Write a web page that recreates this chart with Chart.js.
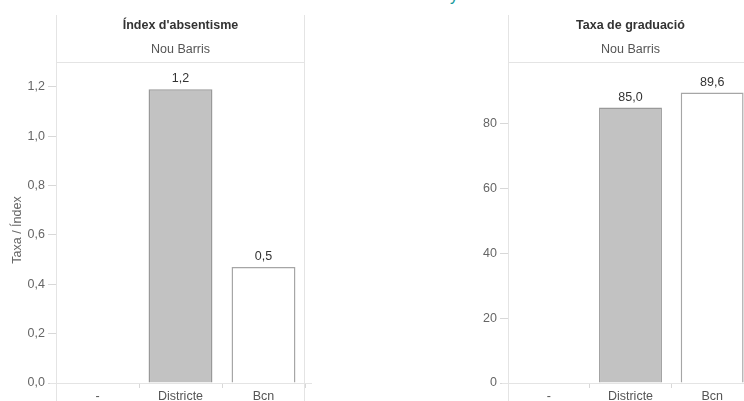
<!DOCTYPE html>
<html>
<head>
<meta charset="utf-8">
<script src="https://cdn.jsdelivr.net/npm/chart.js@4"></script>
<style>
  html, body { margin: 0; padding: 0; background: #fff; overflow: hidden; }
  body { width: 744px; height: 401px; position: relative; font-family: "Liberation Sans", Arial, sans-serif; }
  #absChart { position: absolute; left: 0; top: 0; }
  #gradChart { position: absolute; left: 440px; top: 0; }
  .cut-title { position: absolute; left: 450px; top: -13px; color: #1a9a9c; font-size: 16px; }
</style>
</head>
<body>
<div class="cut-title">y</div>
<canvas id="absChart" width="312" height="401"></canvas>
<canvas id="gradChart" width="320" height="401"></canvas>
<script>
// categories and values
const categories = ['-', 'Districte', 'Bcn'];
const absValues = [null, 1.19, 0.47];
const gradValues = [null, 85.0, 89.6];
const absTicks = { max: 1.3, step: 0.2 };
const gradTicks = { max: 99, step: 20 };

const fillColors = ['#c2c2c2', '#c2c2c2', '#ffffff'];
const edgeColors = ['#999999', '#999999', '#a6a6a6'];
const lineColor = '#e4e4e4';
const fontFamily = '"Liberation Sans", Arial, sans-serif';
const fontSize = 12.5;

const fmt = (v, d) => v.toFixed(d).replace('.', ',');

// header box, panel borders, axis title and value labels
const panelPlugin = {
    id: 'panel',
    afterDraw(chart, args, opts) {
        const { ctx, chartArea: a } = chart;
        ctx.save();
        ctx.strokeStyle = lineColor;
        ctx.lineWidth = 1;
        ctx.beginPath();
        ctx.moveTo(a.left + 0.5, 15); ctx.lineTo(a.left + 0.5, 401);
        ctx.moveTo(a.right - 0.5, 15); ctx.lineTo(a.right - 0.5, 401);
        ctx.moveTo(a.left, 62.5); ctx.lineTo(a.right, 62.5);
        ctx.moveTo(a.left - 6, a.bottom + 0.5); ctx.lineTo(a.right + 7, a.bottom + 0.5);
        ctx.stroke();

        const cx = (a.left + a.right) / 2;
        ctx.textAlign = 'center';
        ctx.textBaseline = 'middle';
        ctx.fillStyle = '#333';
        ctx.font = 'bold ' + fontSize + 'px ' + fontFamily;
        ctx.fillText(opts.title, cx, 26);
        ctx.fillStyle = '#555';
        ctx.font = fontSize + 'px ' + fontFamily;
        ctx.fillText(opts.subtitle, cx, 50);

        if (opts.yTitle) {
            ctx.save();
            ctx.translate(18, 230);
            ctx.rotate(-Math.PI / 2);
            ctx.fillStyle = '#666';
            ctx.fillText(opts.yTitle, 0, 0);
            ctx.restore();
        }

        ctx.fillStyle = '#333';
        ctx.textBaseline = 'bottom';
        const meta = chart.getDatasetMeta(0);
        chart.data.datasets[0].data.forEach((v, i) => {
            if (v == null) return;
            const bar = meta.data[i];
            ctx.fillText(fmt(v, 1), bar.x, bar.y - 4);
        });
        ctx.restore();
    }
};

function makeChart(id, values, ticks, header, axisWidth) {
    return new Chart(document.getElementById(id), {
        type: 'bar',
        data: {
            labels: categories,
            datasets: [{
                data: values,
                backgroundColor: fillColors,
                borderColor: edgeColors,
                borderWidth: 1.5,
                barPercentage: 0.77,
                categoryPercentage: 1
            }]
        },
        options: {
            responsive: false,
            animation: false,
            layout: { padding: { top: 62, right: 7, left: 0, bottom: 0 } },
            plugins: {
                legend: { display: false },
                tooltip: { enabled: false },
                panel: header
            },
            scales: {
                x: {
                    afterFit: (s) => { s.height = 18; },
                    border: { display: false },
                    grid: { offset: true, drawOnChartArea: false, tickLength: 5, color: '#d8d8d8' },
                    ticks: { color: '#555', padding: 1, font: { family: fontFamily, size: fontSize } }
                },
                y: {
                    min: 0,
                    max: ticks.max,
                    afterFit: (s) => { s.width = axisWidth; },
                    border: { display: false },
                    grid: { drawOnChartArea: false, tickLength: 8, color: '#d8d8d8' },
                    ticks: {
                        stepSize: ticks.step,
                        includeBounds: false,
                        padding: 3,
                        color: '#666',
                        font: { family: fontFamily, size: fontSize },
                        callback: (v) => ticks.step < 1 ? fmt(v, 1) : String(v)
                    }
                }
            }
        },
        plugins: [panelPlugin]
    });
}

makeChart('absChart', absValues, absTicks,
    { title: "Índex d'absentisme", subtitle: 'Nou Barris', yTitle: 'Taxa / Índex' }, 56);
makeChart('gradChart', gradValues, gradTicks,
    { title: 'Taxa de graduació', subtitle: 'Nou Barris' }, 68);
</script>
</body>
</html>
